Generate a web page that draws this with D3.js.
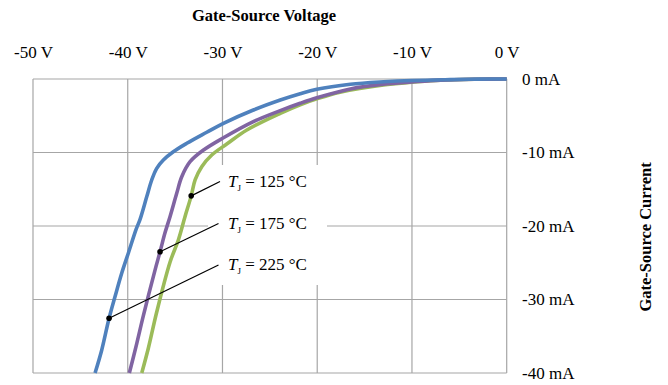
<!DOCTYPE html>
<html>
<head>
<meta charset="utf-8">
<script src="https://cdn.jsdelivr.net/npm/d3@7"></script>
<style>
  html, body { margin: 0; padding: 0; background: #fff; }
  svg { display: block; }
  text { font-family: "Liberation Serif", "Times New Roman", serif; fill: #000; }
</style>
</head>
<body>
<svg id="chart" width="668" height="385"></svg>
<script>
// Axis ticks
const voltageTicks = [-50, -40, -30, -20, -10, 0];
const currentTicks = [0, -10, -20, -30, -40];

// Gate-source I–V curves, voltage (V) and current (mA) per junction temperature
const vgs225 = [-43.45, -42.75, -41.97, -41.34, -40.63, -39.94, -39.1, -38.7, -37.99, -37.47, -36.94, -36.24, -35.19, -33.77, -31.66, -29.9, -26.74, -23.9, -21.8, -20.04, -16.5, -13.0, -10.0, -6.0, -3.0, 0];
const igs225 = [-40.0, -36.9, -32.56, -29.6, -26.4, -23.7, -20.4, -19.1, -16.0, -13.74, -12.15, -11.02, -9.9, -8.75, -7.25, -6.03, -4.22, -2.86, -2.0, -1.4, -0.72, -0.38, -0.2, -0.08, -0.02, 0];

const vgs175 = [-39.83, -39.05, -38.35, -37.12, -36.59, -36.06, -35.53, -34.83, -34.3, -33.42, -32.0, -29.9, -26.74, -23.9, -21.8, -20.04, -16.5, -13.0, -10.0, -7.0, -3.0, 0];
const igs175 = [-40.0, -36.0, -32.2, -26.0, -23.5, -20.9, -18.7, -15.55, -13.3, -11.25, -9.66, -8.0, -5.8, -4.3, -3.3, -2.55, -1.35, -0.7, -0.4, -0.15, -0.03, 0];

const vgs125 = [-38.52, -37.82, -36.94, -35.53, -34.66, -33.95, -33.3, -32.89, -32.19, -31.13, -29.55, -27.43, -23.9, -21.8, -20.04, -17.6, -13.0, -10.0, -7.0, -3.0, 0];
const igs125 = [-40.0, -36.6, -31.7, -24.9, -21.9, -18.7, -15.9, -13.74, -11.93, -10.34, -8.85, -6.94, -4.67, -3.5, -2.7, -1.8, -0.8, -0.45, -0.16, -0.03, 0];

const seriesNames = ["225", "175", "125"];
const seriesColors = ["#4F81BD", "#8064A2", "#9BBB59"];

// Labelled point on each curve (V, mA)
const markerV = [-41.97, -36.59, -33.3];
const markerI = [-32.56, -23.5, -15.9];

const svg = d3.select("#chart");
const plot = { left: 33, right: 506.7, top: 79, bottom: 373 };

const x = d3.scaleLinear().domain([-50, 0]).range([plot.left, plot.right]);
const y = d3.scaleLinear().domain([-40, 0]).range([plot.bottom, plot.top]);

// Grid
const gridColor = "#A6A6A6";
svg.append("g").selectAll("line").data(voltageTicks).join("line")
  .attr("x1", d => x(d)).attr("x2", d => x(d))
  .attr("y1", plot.top).attr("y2", plot.bottom)
  .attr("stroke", gridColor).attr("stroke-width", 1.2);
svg.append("g").selectAll("line").data(currentTicks).join("line")
  .attr("x1", plot.left).attr("x2", plot.right)
  .attr("y1", d => y(d)).attr("y2", d => y(d))
  .attr("stroke", gridColor).attr("stroke-width", 1.2);

// Top axis (voltage)
const xAxis = d3.axisTop(x).tickValues(voltageTicks).tickSize(0).tickPadding(0)
  .tickFormat(d => `${d} V`);
const gx = svg.append("g").attr("transform", `translate(0,${58})`).call(xAxis);
gx.select(".domain").remove();
gx.selectAll("text").attr("font-size", 17).attr("dy", 0)
  .style("font-family", '"Liberation Serif", serif');

// Right axis (current)
const yAxis = d3.axisRight(y).tickValues(currentTicks).tickSize(0).tickPadding(0)
  .tickFormat(d => `${d} mA`);
const gy = svg.append("g").attr("transform", `translate(${522},0)`).call(yAxis);
gy.select(".domain").remove();
gy.selectAll("text").attr("font-size", 17).attr("dy", "0.32em")
  .style("font-family", '"Liberation Serif", serif');

// Axis titles
svg.append("text").attr("x", 264).attr("y", 21)
  .attr("text-anchor", "middle").attr("font-size", 16.5).attr("font-weight", "bold")
  .text("Gate-Source Voltage");
svg.append("text").attr("transform", `translate(651,237) rotate(-90)`)
  .attr("text-anchor", "middle").attr("font-size", 16.5).attr("font-weight", "bold")
  .text("Gate-Source Current");

// Label box (white background behind the temperature labels)
svg.append("rect").attr("x", 208).attr("y", 165).attr("width", 119).attr("height", 120)
  .attr("fill", "#fff");

// Curves
const curveData = [
  vgs225.map((v, i) => [v, igs225[i]]),
  vgs175.map((v, i) => [v, igs175[i]]),
  vgs125.map((v, i) => [v, igs125[i]])
];
const line = d3.line().x(d => x(d[0])).y(d => y(d[1])).curve(d3.curveCatmullRom.alpha(0.5));
// draw 125 first so 225 sits on top
[2, 1, 0].forEach(k => {
  svg.append("path").datum(curveData[k])
    .attr("d", line)
    .attr("fill", "none")
    .attr("stroke", seriesColors[k])
    .attr("stroke-width", 3.6)
    .attr("stroke-linecap", "butt")
    .attr("stroke-linejoin", "round");
});

// Annotations: leader line + dot + label
const labelLayout = [
  { lx: 218.5, ly: 265, tx: 228, ty: 270 },   // 225 °C
  { lx: 218.5, ly: 223.5, tx: 228, ty: 229 }, // 175 °C
  { lx: 220, ly: 181.5, tx: 228, ty: 187 }    // 125 °C
];
seriesNames.forEach((name, k) => {
  const px = x(markerV[k]), py = y(markerI[k]);
  const L = labelLayout[k];
  svg.append("line").attr("x1", px).attr("y1", py).attr("x2", L.lx).attr("y2", L.ly)
    .attr("stroke", "#000").attr("stroke-width", 1.2);
  svg.append("circle").attr("cx", px).attr("cy", py).attr("r", 2.8).attr("fill", "#000");
  const t = svg.append("text").attr("x", L.tx).attr("y", L.ty).attr("font-size", 17);
  t.append("tspan").attr("font-style", "italic").text("T");
  t.append("tspan").attr("font-size", 9).attr("dy", 4).text("J");
  t.append("tspan").attr("dy", -4).text(` = ${name} °C`);
});
</script>
</body>
</html>
